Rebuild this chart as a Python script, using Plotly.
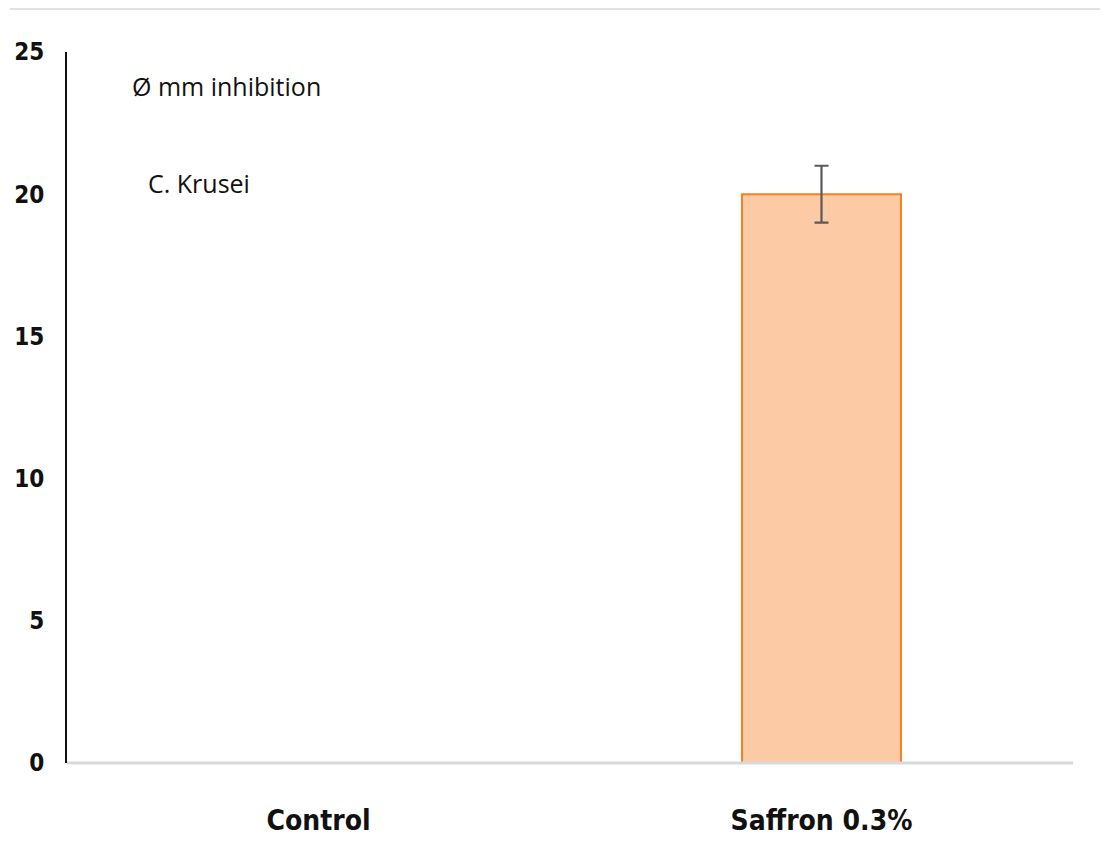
import plotly.graph_objects as go

# Inhibition zone data (mm)
categories = ["Control", "Saffron 0.3%"]
inhibition_mm = [0, 20]
inhibition_err = [0, 1]
y_ticks = [0, 5, 10, 15, 20, 25]

W, H = 1102, 841
ML, MR, MT, MB = 67, 29, 52, 78

fig = go.Figure()
fig.add_trace(go.Bar(
    x=categories,
    y=inhibition_mm,
    width=0.316,
    marker=dict(color="#FDCAA6", line=dict(color="#F7801F", width=2)),
    error_y=dict(type="data", array=inhibition_err, visible=True,
                 color="#5A5A5A", thickness=2.2, width=7),
    showlegend=False,
))

narrow = "DejaVu Sans Condensed, Liberation Sans Narrow, sans-serif"

fig.update_layout(
    width=W, height=H,
    margin=dict(l=ML, r=MR, t=MT, b=MB, autoexpand=False),
    paper_bgcolor="white", plot_bgcolor="white",
    bargap=0.684,
    xaxis=dict(
        showline=False, showgrid=False, ticks="", automargin=False,
        tickfont=dict(family=narrow, size=28, color="#111111", weight="bold"),
        ticklabelstandoff=38,
    ),
    yaxis=dict(
        range=[0, 25], tickvals=y_ticks, automargin=False,
        showline=True, linecolor="#111111", linewidth=2,
        showgrid=False, zeroline=False, ticks="",
        tickfont=dict(family=narrow, size=24, color="#111111", weight="bold"),
        ticklabelstandoff=16,
    ),
    font=dict(family="Liberation Sans, sans-serif"),
)

pw = W - ML - MR
ph = H - MT - MB

def px_x(px):
    return (px - ML) / pw

def px_y(py):
    return (H - MB - py) / ph

# baseline axis line
fig.add_shape(type="line", xref="paper", yref="paper",
              x0=0, x1=1, y0=0, y1=0,
              line=dict(color="#D9D9D9", width=3))
# thin rule across the top
fig.add_shape(type="line", xref="paper", yref="paper",
              x0=px_x(10), x1=px_x(1100), y0=px_y(9), y1=px_y(9),
              line=dict(color="#E2E2E2", width=2))

fig.add_annotation(text="Ø mm inhibition", xref="paper", yref="paper",
                   x=px_x(130), y=px_y(86), xanchor="left", yanchor="middle",
                   showarrow=False,
                   font=dict(family="Open Sans, Noto Sans, sans-serif", size=25, color="#111111"))
fig.add_annotation(text="C. Krusei", xref="paper", yref="paper",
                   x=px_x(146), y=px_y(183), xanchor="left", yanchor="middle",
                   showarrow=False,
                   font=dict(family="Open Sans, Noto Sans, sans-serif", size=25, color="#111111"))

fig.write_html("out.html")
